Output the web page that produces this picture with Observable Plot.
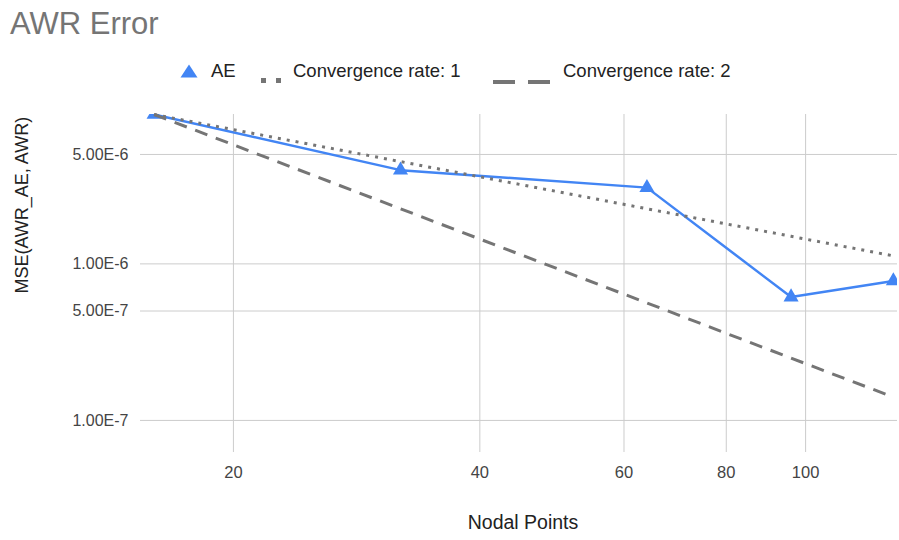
<!DOCTYPE html>
<html>
<head>
<meta charset="utf-8">
<script src="https://cdn.jsdelivr.net/npm/d3@7"></script>
<script src="https://cdn.jsdelivr.net/npm/@observablehq/plot@0.6"></script>
<style>
  body { margin: 0; background: #fff; }
  #wrap { width: 899px; height: 540px; position: relative; overflow: hidden; font-family: "Liberation Sans", Arial, sans-serif; }
  #head { height: 95px; position: relative; }
  #title { position: absolute; left: 10px; top: 8px; font-size: 31px; line-height: 31px; color: #757575; white-space: nowrap; }
  .lg { position: absolute; top: 61px; font-size: 18.5px; line-height: 19px; color: #222; white-space: nowrap; }
  .sw { position: absolute; }
</style>
</head>
<body>
<div id="wrap">
  <div id="head">
    <div id="title"></div>
    <div id="legend"></div>
  </div>
  <div id="chart"></div>
</div>
<script>
// MSE of the AE-based AWR against the reference AWR, by number of nodal points
const nodalPoints = [16, 32, 64, 96, 128];
const aeError = [9.0e-6, 3.97e-6, 3.07e-6, 6.14e-7, 7.78e-7];
// reference slopes anchored at the first AE value
const rate1 = [9.0e-6, 4.5e-6, 2.25e-6, 1.5e-6, 1.125e-6];
const rate2 = [9.0e-6, 2.25e-6, 5.63e-7, 2.5e-7, 1.41e-7];

const seriesNames = ["AE", "Convergence rate: 1", "Convergence rate: 2"];
const xTicks = [20, 40, 60, 80, 100];
const yTicks = [1e-7, 5e-7, 1e-6, 5e-6];
const yTickLabels = ["1.00E-7", "5.00E-7", "1.00E-6", "5.00E-6"];

const titleText = "AWR Error";
const xLabel = "Nodal Points";
const yLabel = "MSE(AWR_AE, AWR)";

const blue = "#4285F4";
const grey = "#757575";

// long-form table for the line marks
const rows = [];
[aeError, rate1, rate2].forEach((vals, s) => {
  nodalPoints.forEach((n, i) => rows.push({series: seriesNames[s], n, mse: vals[i]}));
});
const bySeries = name => rows.filter(r => r.series === name);

document.getElementById("title").textContent = titleText;

// legend: swatch + label per series
const legend = document.getElementById("legend");
const swatches = [
  {left: 180, label: 211, svg: `<svg width="18" height="14"><path d="M9,0.5 L17.5,13.5 L0.5,13.5 Z" fill="${blue}"/></svg>`, top: 64},
  {left: 261, label: 293, svg: `<svg width="24" height="6"><rect x="0" y="0" width="5" height="5" fill="${grey}"/><rect x="15" y="0" width="5" height="5" fill="${grey}"/></svg>`, top: 70},
  {left: 493, label: 563, svg: `<svg width="57" height="5"><rect x="0" y="0" width="22" height="4" fill="${grey}"/><rect x="35" y="0" width="22" height="4" fill="${grey}"/></svg>`, top: 71}
];
swatches.forEach((s, i) => {
  const sw = document.createElement("div");
  sw.className = "sw";
  sw.style.left = s.left + "px";
  sw.style.top = s.top + "px";
  sw.innerHTML = s.svg;
  legend.appendChild(sw);
  const t = document.createElement("div");
  t.className = "lg";
  t.style.left = s.label + "px";
  t.textContent = seriesNames[i];
  legend.appendChild(t);
});

const chart = Plot.plot({
  width: 899,
  height: 445,
  marginTop: 19,
  marginBottom: 88,
  marginLeft: 140,
  marginRight: 2,
  style: {fontFamily: "'Liberation Sans', Arial, sans-serif", fontSize: "16px", color: "#444", background: "#fff", overflow: "visible"},
  x: {type: "log", domain: [15.4, 129.5], axis: null},
  y: {type: "log", domain: [6.24e-8, 9.0e-6], axis: null},
  marks: [
    Plot.gridX(xTicks, {stroke: "#cccccc", strokeOpacity: 1, strokeWidth: 1}),
    Plot.gridY(yTicks, {stroke: "#cccccc", strokeOpacity: 1, strokeWidth: 1}),
    Plot.axisX(xTicks, {tickSize: 0, tickPadding: 14, tickFormat: d => String(d), label: null, fill: "#444", fontSize: 16.5}),
    // y tick labels in spreadsheet-style scientific notation
    Plot.text(yTicks, {y: d => d, frameAnchor: "left", dx: -12, textAnchor: "end", text: (d, i) => yTickLabels[i], fill: "#444", fontSize: 16}),
    Plot.line(bySeries(seriesNames[0]), {x: "n", y: "mse", stroke: blue, strokeWidth: 2.5, clip: true}),
    Plot.dot(bySeries(seriesNames[0]), {x: "n", y: "mse", symbol: "triangle", r: 5.6, fill: blue, stroke: "none", clip: true}),
    Plot.line(bySeries(seriesNames[1]), {x: "n", y: "mse", stroke: grey, strokeWidth: 3, strokeDasharray: "3,6", strokeLinecap: "butt"}),
    Plot.line(bySeries(seriesNames[2]), {x: "n", y: "mse", stroke: grey, strokeWidth: 3, strokeDasharray: "13,9", strokeLinecap: "butt"}),
    Plot.text([xLabel], {frameAnchor: "bottom", dx: 4, dy: 70, text: d => d, fontSize: 19.5, fill: "#222", lineAnchor: "middle"}),
    Plot.text([yLabel], {frameAnchor: "left", dx: -118, dy: 10, rotate: -90, text: d => d, fontSize: 18, fill: "#222", lineAnchor: "middle"})
  ]
});
document.getElementById("chart").appendChild(chart);
</script>
</body>
</html>
